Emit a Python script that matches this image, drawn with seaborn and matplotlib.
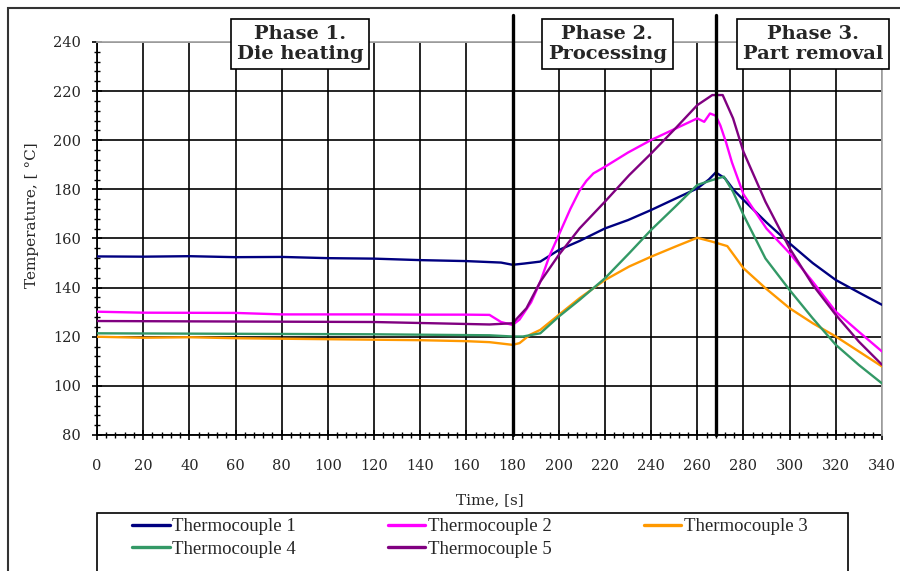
import matplotlib
matplotlib.use("Agg")
import matplotlib.pyplot as plt
import matplotlib.transforms as mtransforms
from matplotlib.patches import Rectangle
from matplotlib.ticker import MultipleLocator
import pandas as pd
import seaborn as sns

# values
t1 = [0, 20, 40, 60, 80, 100, 120, 140, 160, 175, 180, 185, 192, 200, 209, 220, 230, 240, 250, 260, 265, 268, 272, 276, 280, 290, 300, 310, 320, 330, 340]
v1 = [152.7, 152.6, 152.8, 152.4, 152.5, 152.0, 151.8, 151.2, 150.8, 150.2, 149.3, 149.8, 150.6, 155.3, 159.0, 164.1, 167.5, 171.6, 176.0, 180.4, 184.0, 186.9, 184.5, 179.5, 175.7, 166.5, 158.0, 150.0, 143.1, 138.0, 133.0]

t2 = [0, 20, 60, 80, 100, 120, 140, 160, 170, 175, 180, 183, 188, 192, 196, 200, 205, 209, 212, 215, 220, 230, 240, 250, 260, 263, 265.5, 268, 270, 272.5, 275, 280, 290, 300, 310, 320, 330, 340]
v2 = [130.2, 129.8, 129.7, 129.1, 129.1, 129.1, 129.0, 129.0, 128.9, 126.0, 124.8, 127.0, 134.0, 142.4, 153.0, 161.4, 172.0, 179.5, 183.5, 186.5, 189.2, 195.0, 200.1, 204.5, 208.9, 207.5, 210.9, 210.0, 206.0, 199.0, 191.0, 178.0, 164.0, 154.0, 142.4, 130.2, 122.0, 114.0]

t3 = [0, 20, 40, 60, 80, 100, 120, 140, 160, 170, 180, 183, 187.5, 192, 200, 209, 220, 230.5, 240, 250.5, 260, 266.5, 273, 280, 289.5, 300, 310, 320, 330, 340]
v3 = [120.0, 119.6, 119.8, 119.4, 119.2, 119.0, 118.8, 118.6, 118.2, 117.8, 116.7, 117.4, 120.8, 122.8, 128.9, 135.7, 143.1, 148.6, 152.6, 156.7, 160.3, 158.7, 156.9, 147.9, 139.8, 131.6, 125.5, 120.1, 114.0, 107.9]

t4 = [0, 60, 120, 170, 180, 184.5, 192, 200, 209, 220, 230.5, 240, 250.5, 260, 266.5, 271.5, 275.5, 280, 289.5, 300, 310, 320, 330, 340]
v4 = [121.4, 121.2, 121.0, 120.6, 120.1, 120.1, 121.4, 128.2, 135.0, 143.8, 154.0, 163.5, 173.0, 181.8, 183.8, 185.2, 179.0, 169.6, 151.9, 139.0, 127.5, 116.7, 108.5, 101.0]

t5 = [0, 60, 120, 170, 180, 186, 192, 200, 209, 220, 230.5, 240, 250.5, 260, 266.5, 271, 275.5, 280, 289.5, 300, 310, 320, 330, 340]
v5 = [126.4, 126.2, 126.0, 125.0, 125.5, 131.6, 142.4, 153.3, 164.1, 175.0, 185.8, 194.6, 204.8, 214.3, 218.4, 218.4, 208.9, 195.3, 175.0, 156.0, 141.1, 128.9, 118.0, 108.6]

names = ["Thermocouple 1", "Thermocouple 2", "Thermocouple 3", "Thermocouple 4", "Thermocouple 5"]
colors = ["#000080", "#FF00FF", "#FF9900", "#339966", "#800080"]

phases = ["Phase 1.\nDie heating", "Phase 2.\nProcessing", "Phase 3.\nPart removal"]
phase_x = [88, 221, 310]
phase_bounds = [180, 268]

frames = []
for name, t, v in zip(names, [t1, t2, t3, t4, t5], [v1, v2, v3, v4, v5]):
    frames.append(pd.DataFrame({"time": t, "temp": v, "series": name}))
df = pd.concat(frames, ignore_index=True)

sns.set_style("white")
plt.rcParams["font.family"] = ["DejaVu Serif"]

fig = plt.figure(figsize=(9, 5.71), dpi=100)
ax = fig.add_axes([97 / 900, 1 - 435 / 571, 785 / 900, 393 / 571])

sns.lineplot(data=df, x="time", y="temp", hue="series", hue_order=names,
             palette=colors, estimator=None, linewidth=1.7, ax=ax, zorder=3)

ax.set_xlim(0, 340)
ax.set_ylim(80, 240)
ax.xaxis.set_major_locator(MultipleLocator(20))
ax.xaxis.set_minor_locator(MultipleLocator(4))
ax.yaxis.set_major_locator(MultipleLocator(20))
ax.yaxis.set_minor_locator(MultipleLocator(4))
ax.grid(True, which="major", color="black", linewidth=1.2)
ax.tick_params(axis="both", which="major", direction="inout", length=7, width=1.2,
               labelsize=10.5, color="black")
ax.tick_params(axis="both", which="minor", direction="inout", length=5, width=1, color="black")
ax.tick_params(axis="x", which="both", bottom=True, pad=14)
ax.tick_params(axis="y", which="both", left=True, pad=8)

for side in ["top", "right"]:
    ax.spines[side].set_color("#a8a8a8")
    ax.spines[side].set_linewidth(1.3)
    ax.spines[side].set_zorder(2.6)
for side in ["left", "bottom"]:
    ax.spines[side].set_color("black")
    ax.spines[side].set_linewidth(1.3)

ax.set_xlabel("Time, [s]", fontsize=11)
ax.set_ylabel("Temperature, [ °C]", fontsize=11)
ax.xaxis.set_label_coords(0.5, -0.148)
ax.yaxis.set_label_coords(-0.074, 0.56)

for b in phase_bounds:
    ax.axvline(b, ymin=0, ymax=1.069, clip_on=False, color="black", linewidth=2.4, zorder=4)

trans = mtransforms.blended_transform_factory(ax.transData, ax.transAxes)
for label, x in zip(phases, phase_x):
    ax.text(x, 0.995, label, transform=trans, ha="center", va="center",
            fontsize=14, fontweight="bold", linespacing=1.15, zorder=6,
            bbox=dict(boxstyle="square,pad=0.3", facecolor="white", edgecolor="black", linewidth=1.2))

# legend filled row by row, as in the reference
handles, labels = ax.get_legend_handles_labels()
ax.get_legend().remove()
order = [0, 3, 1, 4, 2]
leg = fig.legend([handles[i] for i in order], [labels[i] for i in order],
                 loc="upper left", ncol=3, mode="expand",
                 bbox_to_anchor=(132 / 900, 0, 676 / 900, 1 - 518 / 571),
                 prop={"family": "Liberation Serif", "size": 13.5}, frameon=False,
                 handlelength=2.0, handletextpad=0.15, borderpad=0, labelspacing=0.3,
                 borderaxespad=0)
for line in leg.get_lines():
    line.set_linewidth(2.4)

fig.add_artist(Rectangle((97 / 900, -0.1), 751 / 900, 1 - 513 / 571 + 0.1, transform=fig.transFigure,
                         fill=False, edgecolor="black", linewidth=1.2))
fig.add_artist(Rectangle((8 / 900, -0.1), 1.2, 1 - 8 / 571 + 0.1, transform=fig.transFigure,
                         fill=False, edgecolor="#333333", linewidth=1.5))

fig.savefig("out.png", dpi=100)
